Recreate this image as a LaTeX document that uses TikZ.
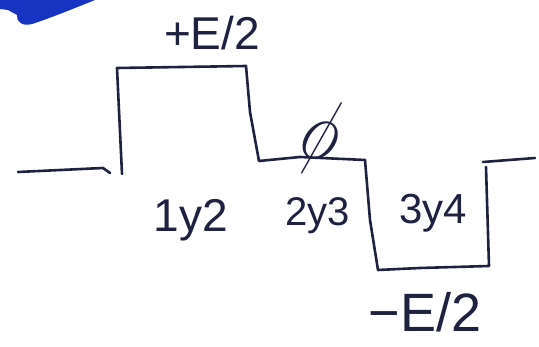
\documentclass[tikz,border=0pt]{standalone}
\usepackage{fontspec}
\setmainfont{Liberation Sans}
\begin{document}
\begin{tikzpicture}[x=1pt,y=-1pt,
  wave/.style={draw=ink,line width=2.6pt,line cap=round,line join=round},
  lbl/.style={text=ink,inner sep=0pt,anchor=base},
  ]
\definecolor{ink}{HTML}{1E2140}
\definecolor{marker}{HTML}{1733C2}
\useasboundingbox (0,0) rectangle (539,347);
% marker stroke in the corner
\fill[marker] (0,0) -- (95,0) .. controls (75,8) and (48,19) .. (32,24)
  .. controls (22,27) and (16,21) .. (17,15) -- (8,10) -- (0,9) -- cycle;
% left lead-in
\draw[wave] (18,172) -- (103,168) -- (110,173);
% positive pulse and zero step
\draw[wave] (122,174) -- (117,68) -- (246,66) -- (250,112) -- (259,161)
  -- (300,157) -- (365,160);
% negative pulse
\draw[wave] (365,160) -- (370,220) -- (378,270) -- (420,268) -- (489,266)
  -- (486,167);
% right lead-out
\draw[wave] (483,162) -- (535,158);
% levels and intervals
\node[lbl,font=\fontsize{46}{46}\selectfont] (pos) at (212,50) {+E/2};
\node[lbl,font=\fontsize{54}{54}\selectfont] (neg) at (425,332) {−E/2};
\node[lbl,font=\fontsize{46}{46}\selectfont] (i12) at (191,232) {1y2};
\node[lbl,font=\fontsize{40}{40}\selectfont] (i23) at (318,226) {2y3};
\node[lbl,font=\fontsize{42}{42}\selectfont] (i34) at (433,224) {3y4};
\node[text=ink,inner sep=0pt,rotate=-20,xscale=6,yscale=9] (zero) at (321,137) {$\phi$};
\end{tikzpicture}
\end{document}
